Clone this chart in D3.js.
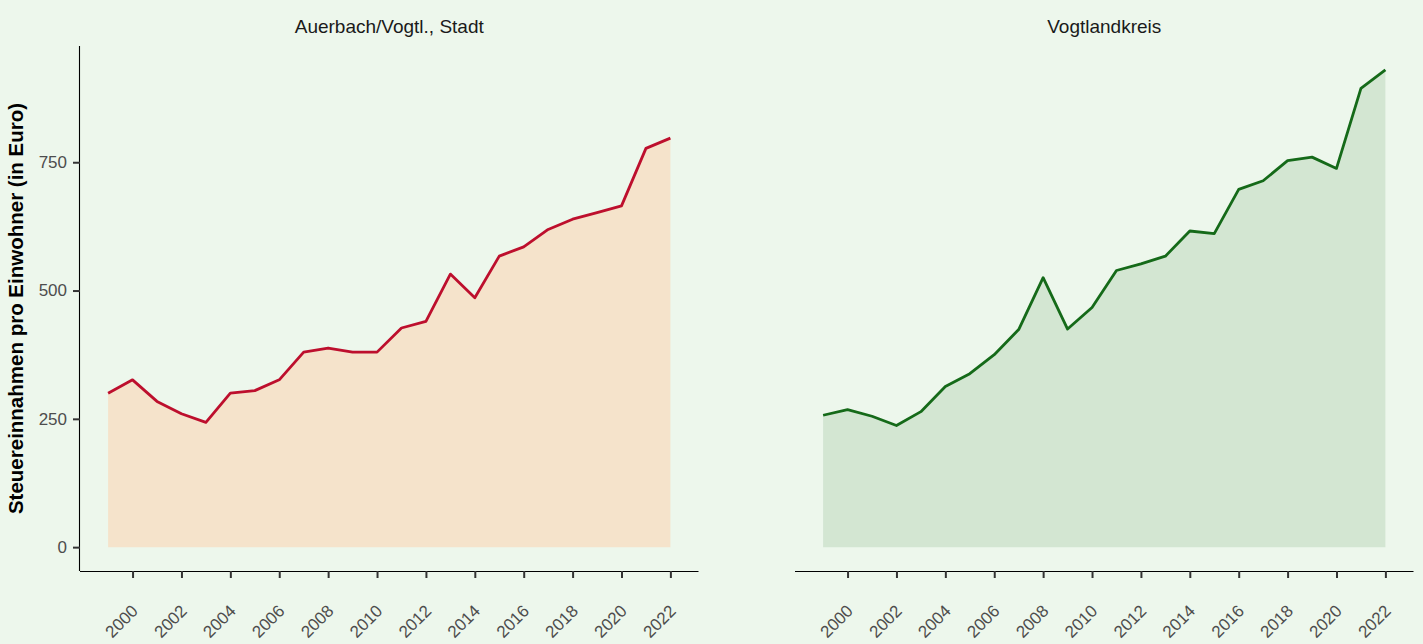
<!DOCTYPE html>
<html><head><meta charset="utf-8">
<script src="https://cdn.jsdelivr.net/npm/d3@7"></script>
<style>
html,body{margin:0;padding:0;background:#EDF7EC;}
svg{display:block;font-family:"Liberation Sans",Arial,sans-serif;}
</style></head>
<body>
<svg id="chart" width="1423" height="644"></svg>
<script>
const years = d3.range(1999, 2023);
const tickYears = [2000,2002,2004,2006,2008,2010,2012,2014,2016,2018,2020,2022];
const yTicks = [0, 250, 500, 750];
const panelTitles = ["Auerbach/Vogtl., Stadt", "Vogtlandkreis"];
const auerbach = [300,326,284,260,243,300,305,326,380,388,380,380,427,440,532,486,567,585,619,639,652,665,777,797];
const vogtland = [257,268,255,237,264,313,338,375,424,525,425,467,539,552,567,616,611,697,714,753,760,738,894,930];
const yTitle = "Steuereinnahmen pro Einwohner (in Euro)";

const svg = d3.select("#chart");
svg.append("rect").attr("width",1423).attr("height",644).attr("fill","#EDF7EC");

const maxV = d3.max([...auerbach, ...vogtland]);
const y = d3.scaleLinear().domain([-0.05*maxV, 1.05*maxV]).range([571, 46]);

const panels = [
  {title: panelTitles[0], data: auerbach, x0: 80, x1: 698.5, fill: "#F5E3CB", stroke: "#BD0F2D", yAxis: true},
  {title: panelTitles[1], data: vogtland, x0: 795, x1: 1413.5, fill: "#D3E6D2", stroke: "#156A19", yAxis: false}
];

panels.forEach(p => {
  const x = d3.scaleLinear().domain([1999 - 0.05*23, 2022 + 0.05*23]).range([p.x0, p.x1]);
  const g = svg.append("g");
  const pts = years.map((yr,i) => ({yr, v: p.data[i]}));
  g.append("path").datum(pts)
    .attr("d", d3.area().x(d=>x(d.yr)).y0(y(0)).y1(d=>y(d.v)))
    .attr("fill", p.fill);
  g.append("path").datum(pts)
    .attr("d", d3.line().x(d=>x(d.yr)).y(d=>y(d.v)))
    .attr("fill","none").attr("stroke", p.stroke).attr("stroke-width",2.8)
    .attr("stroke-linejoin","round");

  const xa = g.append("g").attr("transform",`translate(0,${y.range()[0]})`)
    .call(d3.axisBottom(x).tickValues(tickYears).tickFormat(d3.format("d")).tickSize(7).tickPadding(0));
  xa.select(".domain").attr("d",`M${p.x0},0.5H${p.x1}`).attr("stroke","#000").attr("stroke-width",1.1);
  xa.selectAll(".tick line").attr("stroke","#333").attr("stroke-width",2);
  xa.selectAll(".tick text")
    .attr("fill","#4d4d4d").attr("font-size","17px")
    .attr("text-anchor","end")
    .attr("y",0).attr("dy",0)
    .attr("transform","translate(6,41) rotate(-45)");

  if (p.yAxis) {
    const ya = g.append("g").attr("transform",`translate(${p.x0},0)`)
      .call(d3.axisLeft(y).tickValues(yTicks).tickSize(7).tickPadding(6));
    ya.select(".domain").attr("d",`M-0.5,${y.range()[0]}V${y.range()[1]}`).attr("stroke","#000").attr("stroke-width",1.1);
    ya.selectAll(".tick line").attr("stroke","#333").attr("stroke-width",2);
    ya.selectAll(".tick text").attr("fill","#4d4d4d").attr("font-size","17px");
  }

  svg.append("text").attr("x",(p.x0+p.x1)/2).attr("y",33)
    .attr("text-anchor","middle").attr("font-size","19px").attr("fill","#1a1a1a")
    .text(p.title);
});

svg.append("text")
  .attr("transform",`translate(23,${(46+571)/2}) rotate(-90)`)
  .attr("text-anchor","middle").attr("font-size","20.5px").attr("font-weight","bold").attr("fill","#000")
  .text(yTitle);
</script>
</body></html>
